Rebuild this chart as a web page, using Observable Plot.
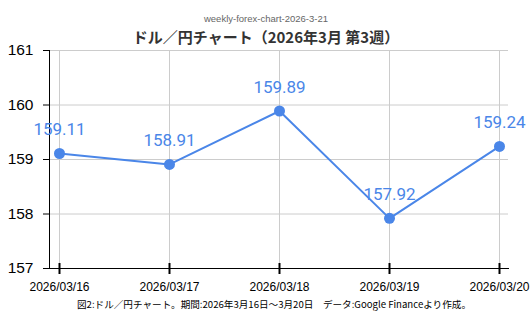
<!DOCTYPE html>
<html><head><meta charset="utf-8">
<script src="https://cdn.jsdelivr.net/npm/d3@7"></script>
<script src="https://cdn.jsdelivr.net/npm/@observablehq/plot@0.6"></script>
<style>
body{margin:0;background:#fff;width:532px;height:318px;overflow:hidden;position:relative;font-family:"Liberation Sans",Arial,sans-serif}
.t{position:absolute;left:0;width:532px;text-align:center;white-space:nowrap}
#sub{top:13px;font-size:9.5px;color:#666}
#title{top:26px;font-size:15px;font-weight:bold;color:#333;font-family:"Noto Sans CJK JP",sans-serif}
#cap{top:297px;left:8px;font-size:9.6px;color:#000;font-family:"Noto Sans CJK JP",sans-serif}
#chart{position:absolute;left:0;top:0}
</style></head><body>
<div id="chart"></div>
<div class="t" id="sub">weekly-forex-chart-2026-3-21</div>
<div class="t" id="title">ドル／円チャート（2026年3月 第3週）</div>
<div class="t" id="cap">図2:ドル／円チャート。期間:2026年3月16日～3月20日　データ:Google Financeより作成。</div>
<script>
const dates = ["2026/03/16","2026/03/17","2026/03/18","2026/03/19","2026/03/20"];
const rates = [159.11, 158.91, 159.89, 157.92, 159.24];
const yTicks = [157, 158, 159, 160, 161];
const data = dates.map((d, i) => ({date: d, rate: rates[i]}));
const blue = "#4a86e8";
const plot = Plot.plot({
  width: 532, height: 318,
  marginLeft: 49, marginRight: 24, marginTop: 50, marginBottom: 50,
  style: {fontFamily: "'Liberation Sans', Arial, sans-serif", background: "transparent", color: "#000"},
  x: {type: "point", domain: dates, padding: 0, insetLeft: 9, insetRight: 8},
  y: {domain: [157, 161]},
  marks: [
    Plot.gridY(yTicks, {stroke: "#ccc", strokeOpacity: 1}),
    Plot.gridX(dates, {stroke: "#ccc", strokeOpacity: 1}),
    Plot.frame({anchor: "left", stroke: "#000"}),
    Plot.frame({anchor: "bottom", stroke: "#000"}),
    Plot.axisY(yTicks, {tickSize: 6, tickPadding: 10, fontSize: 15.5, label: null, tickFormat: d3.format("d")}),
    Plot.axisX(dates, {tickSize: 6, tickPadding: 8, fontSize: 12, label: null, strokeWidth: 2}),
    Plot.ruleX(dates, {x: d => d, y1: () => 157, y2: () => 157, insetTop: -5, stroke: "#000", strokeWidth: 2}),
    Plot.line(data, {x: "date", y: "rate", stroke: blue, strokeWidth: 2}),
    Plot.dot(data, {x: "date", y: "rate", fill: blue, r: 5.5}),
    Plot.text(data, {x: "date", y: "rate", text: d => d.rate.toFixed(2), dy: -23.5, fill: blue, fontSize: 17, fontFamily: "Roboto"})
  ]
});
document.getElementById("chart").append(plot);
</script>
</body></html>
